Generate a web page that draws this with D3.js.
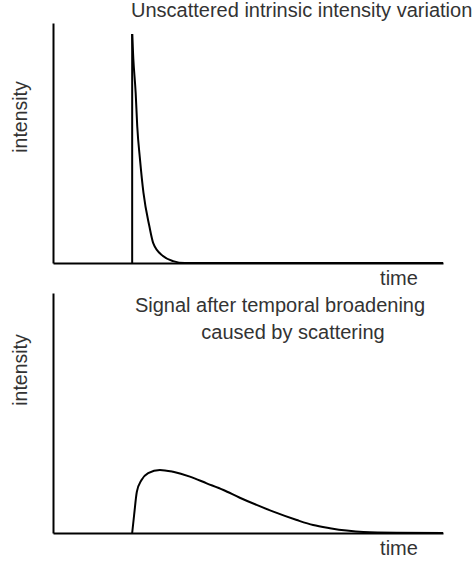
<!DOCTYPE html>
<html>
<head>
<meta charset="utf-8">
<script src="https://cdn.jsdelivr.net/npm/d3@7"></script>
<style>
  body { margin: 0; background: #fff; }
  svg { display: block; }
  text { font-family: "Liberation Sans", Arial, Helvetica, sans-serif; fill: #333; }
</style>
</head>
<body>
<div id="chart"></div>
<script>
// top panel: intrinsic pulse (time, intensity)
const spikeTime = 20.3
const spikePeak = 95.4
const decayTime = [20.3, 20.6, 21.2, 21.6, 22.3, 23.2, 24.7, 25.7, 28.2, 30.8, 33.8, 100]
const decayValue = [95.4, 85, 70.8, 57, 43.3, 29.2, 15.4, 8.3, 2.9, 0.8, 0, 0]

// bottom panel: scattered pulse
const broadTime = [20.3, 20.8, 21.5, 22.7, 24.4, 27.4, 30.8, 35.1, 39.4, 43.7, 47.9, 52.2, 56.5, 62.5, 66.7, 71.0, 75.3, 79.6, 88.1, 100]
const broadValue = [0, 7.5, 17.2, 22.1, 24.9, 26.3, 25.5, 23.5, 20.7, 17.9, 14.7, 11.7, 8.9, 5.4, 3.3, 2.0, 1.0, 0.4, 0.1, 0]

const titles = ["Unscattered intrinsic intensity variation", ["Signal after temporal broadening", "caused by scattering"]]
const xLabel = "time"
const yLabel = "intensity"

const width = 476
const height = 563

const svg = d3.select("#chart")
  .append("svg")
    .attr("width", width)
    .attr("height", height)

const x = d3.scaleLinear()
  .domain([0, 100])
  .range([53, 443])

// one y scale per panel
const yTop = d3.scaleLinear().domain([0, 100]).range([263, 23])
const yBot = d3.scaleLinear().domain([0, 100]).range([533, 293])

function drawAxes(y, timeBaseline, labelCenter) {
  const g = svg.append("g")

  // x axis, no ticks
  g.append("g")
    .attr("transform", `translate(0,${y(0)})`)
    .call(d3.axisBottom(x).ticks(0).tickSizeOuter(0))
    .call(a => a.select(".domain").attr("stroke", "#000").attr("stroke-width", 2))

  // y axis, no ticks
  g.append("g")
    .attr("transform", `translate(${x(0)},0)`)
    .call(d3.axisLeft(y).ticks(0).tickSizeOuter(0))
    .call(a => a.select(".domain").attr("stroke", "#000").attr("stroke-width", 2))

  g.append("text")
    .attr("x", 399)
    .attr("y", timeBaseline)
    .attr("text-anchor", "middle")
    .style("font-size", "20px")
    .text(xLabel)

  g.append("text")
    .attr("transform", `translate(27,${labelCenter}) rotate(-90)`)
    .attr("text-anchor", "middle")
    .style("font-size", "19.5px")
    .text(yLabel)
}

drawAxes(yTop, 285, 117)
drawAxes(yBot, 555, 370)

const line = (y) => d3.line()
  .x(d => x(d[0]))
  .y(d => y(d[1]))
  .curve(d3.curveMonotoneX)

// top: vertical rise then exponential-like decay
svg.append("line")
  .attr("x1", x(spikeTime))
  .attr("x2", x(spikeTime))
  .attr("y1", yTop(0))
  .attr("y2", yTop(spikePeak))
  .attr("stroke", "#000")
  .attr("stroke-width", 2)

svg.append("path")
  .datum(d3.zip(decayTime, decayValue))
  .attr("d", line(yTop))
  .attr("fill", "none")
  .attr("stroke", "#000")
  .attr("stroke-width", 2)

// bottom: broadened pulse
svg.append("path")
  .datum(d3.zip(broadTime, broadValue))
  .attr("d", line(yBot))
  .attr("fill", "none")
  .attr("stroke", "#000")
  .attr("stroke-width", 2)

// titles
svg.append("text")
  .attr("x", 131)
  .attr("y", 17)
  .style("font-size", "20px")
  .text(titles[0])

svg.append("text")
  .attr("x", 280)
  .attr("y", 312)
  .attr("text-anchor", "middle")
  .style("font-size", "20px")
  .text(titles[1][0])

svg.append("text")
  .attr("x", 293)
  .attr("y", 339)
  .attr("text-anchor", "middle")
  .style("font-size", "20px")
  .text(titles[1][1])
</script>
</body>
</html>
